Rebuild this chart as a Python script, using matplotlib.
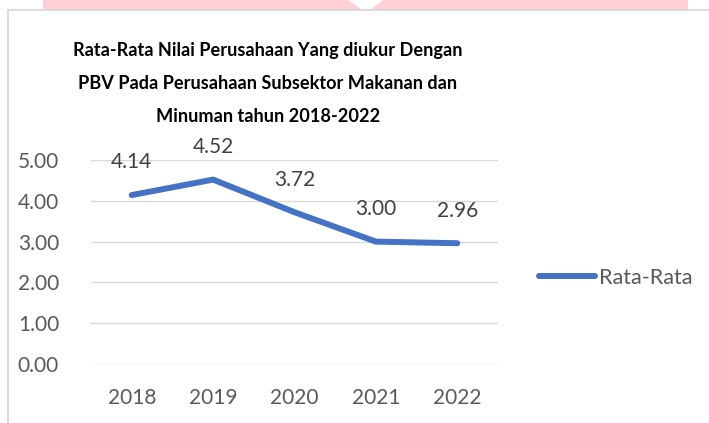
import matplotlib
matplotlib.use("Agg")
import matplotlib.pyplot as plt
from matplotlib.patches import Polygon
from matplotlib.lines import Line2D

years = ["2018", "2019", "2020", "2021", "2022"]
values = [4.14, 4.52, 3.72, 3.00, 2.96]
yticks = [0, 1, 2, 3, 4, 5]
series_name = "Rata-Rata"
title = ("Rata-Rata Nilai Perusahaan Yang diukur Dengan\n"
         "PBV Pada Perusahaan Subsektor Makanan dan\n"
         "Minuman tahun 2018-2022")

W, H = 709, 423
DPI = 100
plt.rcParams['font.family'] = ['Lato', 'DejaVu Sans']

fig = plt.figure(figsize=(W / DPI, H / DPI), dpi=DPI)
fig.patch.set_facecolor("white")

def fx(px):
    return px / W

def fy(py):
    return 1 - py / H

# pink decoration at top with notch
pink = Polygon([(fx(43), fy(0)), (fx(348), fy(0)), (fx(362), fy(9.5)),
                (fx(370), fy(9.5)), (fx(383), fy(0)), (fx(688), fy(0)),
                (fx(688), fy(9.5)), (fx(43), fy(9.5))],
               closed=True, transform=fig.transFigure, facecolor="#FFD1D6",
               edgecolor="none", zorder=0)
fig.patches.append(pink)

# chart frame borders
fig.add_artist(Line2D([fx(8), fx(709)], [fy(9.8), fy(9.8)], transform=fig.transFigure,
                      color="#D9D9D9", lw=1.3))
fig.add_artist(Line2D([fx(8), fx(8)], [fy(9.8), fy(423)], transform=fig.transFigure,
                      color="#D9D9D9", lw=1.3))

ax = fig.add_axes([fx(91), fy(364), fx(498) - fx(91), fy(160) - fy(364)])
x = list(range(len(years)))
ax.plot(x, values, color="#4472C4", lw=4.3, solid_capstyle="round",
        solid_joinstyle="round", label=series_name, zorder=3)
for xi, v in zip(x, values):
    ax.annotate(f"{v:.2f}", (xi, v), xytext=(0, 23.5), textcoords="offset points",
                ha="center", va="center", fontsize=15, color="#404040")

ax.set_xlim(-0.5, len(years) - 0.5)
ax.set_ylim(0, 5)
ax.set_yticks(yticks)
ax.set_yticklabels([f"{t:.2f}" for t in yticks])
ax.set_xticks(x)
ax.set_xticklabels(years)
ax.tick_params(axis="both", length=0, labelsize=15, labelcolor="#595959")
ax.tick_params(axis="y", pad=23)
ax.tick_params(axis="x", pad=17)
ax.grid(axis="y", color="#D9D9D9", lw=1.0)
ax.set_axisbelow(True)
for s in ax.spines.values():
    s.set_visible(False)

fig.text(fx(268), fy(83.5), title, ha="center", va="center", fontsize=13.1,
         fontweight="bold", color="black", linespacing=2.12)

leg = fig.legend(handles=[Line2D([0], [0], color="#4472C4", lw=4.3, solid_capstyle="round")],
                 labels=[series_name], loc="center left",
                 bbox_to_anchor=(fx(539), fy(278)), frameon=False, fontsize=15.5,
                 handlelength=2.6, handletextpad=0.2, borderpad=0, borderaxespad=0)
for t in leg.get_texts():
    t.set_color("#595959")

fig.savefig("out.png", dpi=DPI, facecolor="white")
